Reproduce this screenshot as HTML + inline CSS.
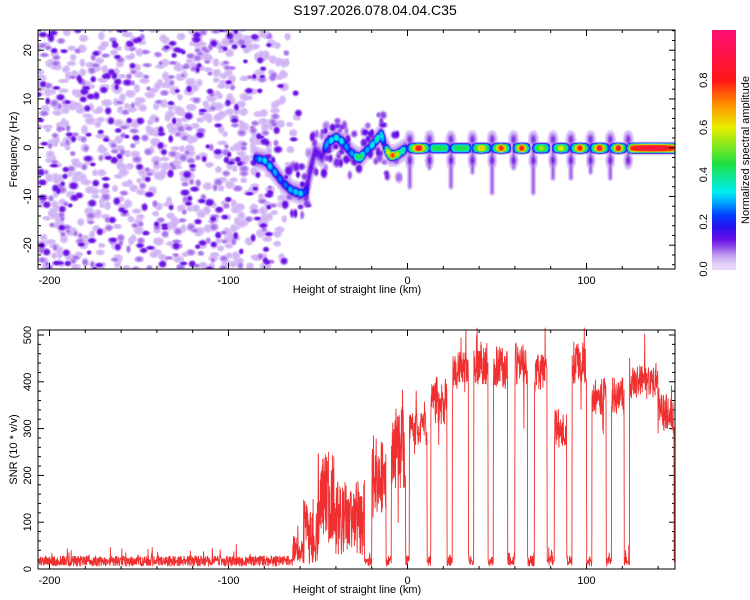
<!DOCTYPE html>
<html><head><meta charset="utf-8">
<style>
html,body{margin:0;padding:0;background:#fff;}
#wrap{position:relative;width:750px;height:600px;overflow:hidden;font-family:"Liberation Sans",sans-serif;}
canvas{position:absolute;}
svg{position:absolute;left:0;top:0;}
</style></head>
<body>
<div id="wrap">
<canvas id="heat" width="637" height="239" style="left:38px;top:30px"></canvas>
<canvas id="cbar" width="24" height="240" style="left:712px;top:30px"></canvas>
<svg id="svg" width="750" height="600"></svg>
</div>
<script>
// ---- data ----
const ridgeKm  = [-85,-80,-75,-70,-65,-60,-57,-55,-52,-48,-45,-40,-36,-33,-30,-27,-24,-21,-18,-15,-13,-10,-7,-4,-1];
const ridgeHz  = [-2.1,-2.5,-4.6,-7,-8.7,-9.3,-9,-5.2,-0.5,-1.8,1.2,2.2,1.2,-0.5,-1.5,-2.1,-0.8,0.2,1.5,2.9,0.5,-1.5,-1.5,-0.8,0];
const ridgeAmp = [0.25,0.3,0.28,0.22,0.28,0.3,0.2,0.12,0.12,0.12,0.3,0.32,0.3,0.22,0.3,0.5,0.25,0.3,0.35,0.35,0.15,0.8,0.6,0.4,0.3];
const segStart = [1,13,25,37,48,60,71,82,92,103,114,124];
const segEnd   = [11,22,34,45,56,67,78,89,100,111,121,149];
const segPeak  = [0.85,0.45,0.45,0.65,0.8,0.82,0.55,0.6,0.82,0.85,0.85,0.9];
const streakKm = [1,12,24,36,47,59,70,81,91,102,113,123];
const streakLen= [-8,-4,-8,-5,-9,-4,-9,-6,-6,-5,-6,-3];

const snrSegStart = [-64,-58,-50,-40,-20,-9,1,13,25,37,48,60,71,82,92,103,114,124,140];
const snrSegEnd   = [-58,-50,-40,-24,-12,-1,11,22,34,45,56,67,78,89,100,111,121,140,149];
const snrLevel    = [40,80,150,110,200,260,300,360,420,440,430,440,420,300,440,370,370,400,330];
const snrNoise    = [30,70,100,80,90,90,35,50,45,45,45,45,40,40,45,40,40,35,45];
const snrBase = 17;

const xTicks = [-200,-100,0,100];
const hzTicks = [-20,-10,0,10,20];
const snrTicks = [0,100,200,300,400,500];
const cbTicks = [0.0,0.2,0.4,0.6,0.8];

// ---- scales ----
const X = km => 407.5 + km*1.79;
const Yt = hz => 147.7 - hz*4.875;
const Yb = v => 569 - v*0.468;
const L=38,R=675,TT=30,TB=269,BT=330,BB=569;

let seed=12345;
function rnd(){seed|=0;seed=seed+0x6D2B79F5|0;let t=Math.imul(seed^seed>>>15,1|seed);t=t+Math.imul(t^t>>>7,61|t)^t;return((t^t>>>14)>>>0)/4294967296;}

const stops=[[0,[255,255,255]],[0.02,[230,214,249]],[0.06,[196,160,242]],[0.1,[136,64,232]],[0.13,[104,16,232]],[0.18,[40,16,240]],[0.23,[0,64,255]],[0.29,[0,176,255]],[0.33,[0,240,240]],[0.45,[32,224,64]],[0.6,[232,240,0]],[0.7,[255,144,0]],[0.8,[255,24,24]],[1.0,[255,16,112]]];
function cmap(v){
  if(v<=0.015) return [255,255,255];
  for(let i=1;i<stops.length;i++){ if(v<=stops[i][0]){const a=stops[i-1],b=stops[i];const t=(v-a[0])/(b[0]-a[0]);return [0,1,2].map(k=>a[1][k]+(b[1][k]-a[1][k])*t);} }
  return stops[stops.length-1][1];
}

// ---- heatmap ----
const W=637,H=239;
const field=new Float32Array(W*H);
function splat(cx,cy,amp,sx,sy,p){
  cx-=L; cy-=TT;
  const x0=Math.max(0,Math.floor(cx-3*sx)),x1=Math.min(W-1,Math.ceil(cx+3*sx));
  const y0=Math.max(0,Math.floor(cy-3*sy)),y1=Math.min(H-1,Math.ceil(cy+3*sy));
  for(let y=y0;y<=y1;y++)for(let x=x0;x<=x1;x++){
    const d=((x-cx)/sx)**2+((y-cy)/sy)**2;
    const v=amp*Math.exp(-(p===4?d*d:d));
    const i=y*W+x; if(v>field[i])field[i]=v;
  }
}
// background noise texture
for(let n=0;n<1150;n++){
  const km=-207+rnd()*147, hz=-25+rnd()*50;
  if(km>-80 && rnd()<(km+80)/20) continue;
  const r=rnd(); const amp=r<0.55?0.045:(r<0.8?0.08:0.13);
  const big=amp<0.06?1.2:1;
  splat(X(km),Yt(hz),amp,(2.4+rnd()*2.4)*big,(2+rnd()*2)*big,4);
}
function interp(arrX,arrY,x){for(let i=1;i<arrX.length;i++){if(x<=arrX[i]){const t=(x-arrX[i-1])/(arrX[i]-arrX[i-1]);return arrY[i-1]+(arrY[i]-arrY[i-1])*t;}}return arrY[arrY.length-1];}
// purple haze around ridge
for(let n=0;n<110;n++){
  const km=-70+rnd()*65; const hz=interp(ridgeKm,ridgeHz,km)+(rnd()-0.5)*11;
  splat(X(km),Yt(hz),0.07+rnd()*0.07,2.2+rnd()*2,2.5+rnd()*3,4);
}
// ridge before 0 km (blobby)
for(let km=ridgeKm[0];km<=ridgeKm[ridgeKm.length-1];km+=0.4){
  const hz=interp(ridgeKm,ridgeHz,km), a=interp(ridgeKm,ridgeAmp,km);
  const mod=0.8+0.2*Math.cos(km*2.2);
  splat(X(km),Yt(hz),0.13,3,8,2);
  splat(X(km),Yt(hz),a*mod*1.1,3,4.6,4);
}
// streaks
for(let i=0;i<streakKm.length;i++){
  for(let hz=0;hz>=streakLen[i];hz-=0.3) splat(X(streakKm[i]),Yt(hz),0.09,2.2,3,2);
  splat(X(streakKm[i]),Yt(1.8),0.11,4,7,2);
  splat(X(streakKm[i]),Yt(-2.5),0.12,3.5,7,2);
}
// segments along 0 Hz
for(let i=0;i<segStart.length;i++){
  const s=segStart[i],e=segEnd[i],pk=segPeak[i];
  for(let km=s-0.5;km<=e+0.5;km+=0.3){
    const t=(km-s)/(e-s);
    let a=0.42+(pk-0.42)*Math.exp(-(((t-0.5)/0.28)**2)*(e-s>15?0.1:1));
    a*=Math.min(1,0.6+Math.max(0,Math.min(km-s,e-km))/1.5);
    splat(X(km),Yt(0),a,2,4.6,4);
  }
}
const hc=document.getElementById('heat').getContext('2d');
const img=hc.createImageData(W,H);
for(let i=0;i<W*H;i++){const c=cmap(field[i]);img.data[i*4]=c[0];img.data[i*4+1]=c[1];img.data[i*4+2]=c[2];img.data[i*4+3]=255;}
hc.putImageData(img,0,0);
// colorbar
const cc=document.getElementById('cbar').getContext('2d');
for(let y=0;y<240;y++){const v=(269-(30+y))/236;const c=cmap(Math.max(0.02,v));cc.fillStyle=`rgb(${c[0]|0},${c[1]|0},${c[2]|0})`;cc.fillRect(0,y,24,1);}

// ---- SVG axes ----
const svg=document.getElementById('svg');
const NS='http://www.w3.org/2000/svg';
function el(tag,attrs,parent){const e=document.createElementNS(NS,tag);for(const k in attrs)e.setAttribute(k,attrs[k]);(parent||svg).appendChild(e);return e;}
function txt(s,x,y,size,rot,anchor,name){
  const t=el('text',{x:x,y:y,'font-size':size,'text-anchor':anchor||'middle',fill:'#000','font-family':'Liberation Sans, sans-serif'});
  if(rot)t.setAttribute('transform',`rotate(-90 ${x} ${y})`);
  t.textContent=s;
  
  
  return t;
}
txt('S197.2026.078.04.04.C35',375,15,14,false,'middle','chart-title');

function frame(top,bot,name,ymin,ymax,yfun,ymaj,ymin2,ylabel,yTicksArr){
  const g=el('g',{});
  
  
  el('rect',{x:L,y:top,width:R-L,height:bot-top,fill:'none',stroke:'#000','stroke-width':1},g);
  for(let km=-200;km<=140;km+=20){
    const x=X(km);const len=km%100===0?6:3;
    el('line',{x1:x,x2:x,y1:bot,y2:bot-len,stroke:'#000'},g);
    el('line',{x1:x,x2:x,y1:top,y2:top+len,stroke:'#000'},g);
  }
  for(let v=ymin;v<=ymax;v+=ymin2){
    const y=yfun(v);const len=(Math.abs(v)%ymaj===0)?6:3;
    el('line',{x1:L,x2:L+len,y1:y,y2:y,stroke:'#000'},g);
    el('line',{x1:R,x2:R-len,y1:y,y2:y,stroke:'#000'},g);
  }
  xTicks.forEach(v=>{txt(String(v),X(v),bot+15,11,false,'middle','x-tick-label');});
  yTicksArr.forEach(v=>{txt(String(v),31,yfun(v),11,true,'middle','y-tick-label');});
  txt('Height of straight line (km)',357,bot+24,11,false,'middle','x-axis-title');
  txt(ylabel,17,(top+bot)/2,11,true,'middle','y-axis-title');
  return g;
}
frame(TT,TB,'spectrogram-axes',-24,24,Yt,10,2,'Frequency (Hz)',hzTicks);
frame(BT,BB,'snr-axes',0,500,Yb,100,20,'SNR (10 * v/v)',snrTicks);

// colorbar labels
cbTicks.forEach(v=>{txt(v.toFixed(1),707,269-v*236,11,true,'middle','colorbar-tick-label');});
txt('Normalized spectral amplitude',749,150,11,true,'middle','colorbar-title');

// SNR line
let pts=[];
for(let km=-206.5;km<=149.4;km+=0.15){
  let lvl=snrBase,nz=11;
  for(let i=0;i<snrSegStart.length;i++){if(km>=snrSegStart[i]&&km<=snrSegEnd[i]){lvl=snrLevel[i];nz=snrNoise[i];break;}}
  let v=lvl+(rnd()-0.5)*2*nz;
  if(lvl===snrBase && rnd()<0.06) v+=rnd()*25;
  if(lvl>snrBase && rnd()<0.04) v+=rnd()*80;
  if(lvl>snrBase && rnd()<0.02) v-=rnd()*150;
  v=Math.max(1,Math.min(515,v));
  pts.push(X(km).toFixed(1)+','+Yb(v).toFixed(1));
}
const line=el('polyline',{points:pts.join(' '),fill:'none',stroke:'#f03030','stroke-width':0.9,'stroke-linejoin':'round'});


el('rect',{x:L,y:BT,width:R-L,height:BB-BT,fill:'none',stroke:'#000'});
</script>
</body></html>
